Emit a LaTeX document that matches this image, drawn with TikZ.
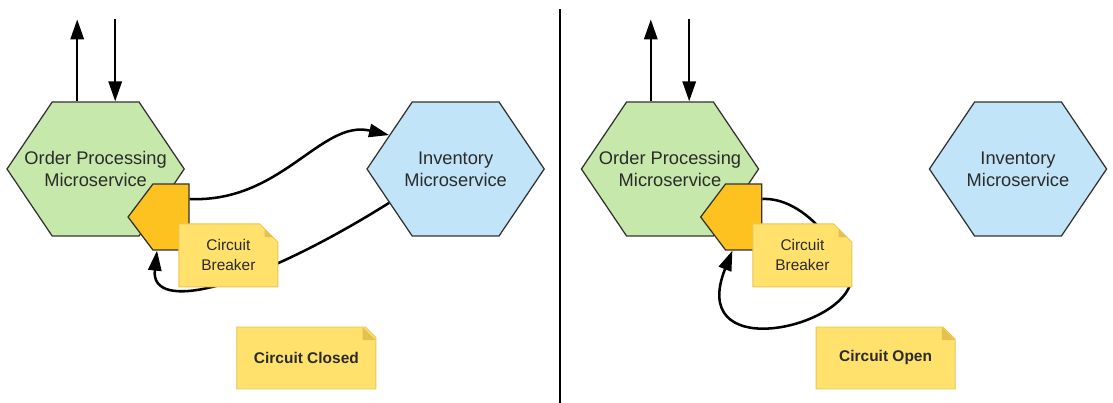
\documentclass[tikz,border=0pt]{standalone}
\usepackage{fontspec}
\setmainfont{Liberation Sans}
\usepackage{xcolor}
\usepackage{tikz}
\usetikzlibrary{shapes.symbols,shapes.misc,arrows.meta}
\definecolor{CBGreen}{HTML}{C6E8AB}
\definecolor{CBBlue}{HTML}{C2E4F8}
\definecolor{CBOrange}{HTML}{FDC21F}
\definecolor{CBNote}{HTML}{FFE16B}
\definecolor{CBNoteLine}{HTML}{E9C655}
\definecolor{CBFold}{HTML}{E3C050}
\definecolor{CBLine}{HTML}{333333}
\definecolor{CBText}{HTML}{2B2B2B}
\tikzset{
  service/.style={signal, signal to=west and east, signal pointer angle=112,
    draw=CBLine, line width=0.9pt, minimum width=4.43cm, minimum height=3.35cm, inner sep=0pt},
  servicetext/.style={align=center, inner sep=0pt, text=CBText, font=\fontsize{13}{15.6}\selectfont},
  breaker/.style={signal, signal to=west, signal pointer angle=106, fill=CBOrange,
    draw=CBLine, line width=0.9pt, minimum width=1.525cm, minimum height=1.65cm, inner sep=0pt},
  note/.style={chamfered rectangle, chamfered rectangle corners=north east,
    chamfered rectangle xsep=0.33cm, fill=CBNote, draw=CBNoteLine, line width=0.6pt,
    align=center, inner sep=0pt, text=CBText, font=\fontsize{11}{14.2}\selectfont,
    path picture={\fill[CBFold] ([xshift=-0.33cm]path picture bounding box.north east)
      -- ++(0,-0.33) -- ++(0.33,0) -- cycle;}},
  flow/.style={-{Triangle[length=0.5cm,width=0.33cm]}, line width=1.8pt}
}

\begin{document}
\begin{tikzpicture}[x=1cm,y=1cm]
\path[use as bounding box] (0,0) rectangle (27.825,10.075);
\draw[line width=1.5pt] (14.00,0) -- (14.00,9.85);
\node[service, fill=CBGreen, label={[servicetext]center:Order Processing\\Microservice}] (ord1) at (2.39,5.85) {};
\node[service, fill=CBBlue, label={[servicetext]center:Inventory\\Microservice}] (inv1) at (11.39,5.85) {};
\node[breaker] (cb1) at (4.275,4.65) {};
\coordinate (out1) at ([xshift=-0.46cm,yshift=2.05cm]ord1.north);
\coordinate (in1) at ([xshift=0.49cm,yshift=2.05cm]ord1.north);
\draw[flow] (out1 |- ord1.north) -- (out1);
\draw[flow] (in1) -- (in1 |- ord1.north);
\draw[flow] ([yshift=0.45cm]cb1.east) .. controls +(2.3,-0.1) and +(-1.7,0.4) .. (inv1.153);
\draw[flow] (inv1.207) .. controls +(-3.475,-2.175) and +(-0.175,-1.575) .. ([xshift=-0.35cm]cb1.south);
\node[note, minimum width=2.475cm, minimum height=1.575cm] (brk1) at (5.71,3.69) {Circuit\\Breaker};
\node[note, minimum width=3.475cm, minimum height=1.55cm, font=\fontsize{11}{14}\selectfont\bfseries] (state1) at (7.66,1.125) {Circuit Closed};
\node[service, fill=CBGreen, label={[servicetext]center:Order Processing\\Microservice}] (ord2) at (16.75,5.85) {};
\node[service, fill=CBBlue, label={[servicetext]center:Inventory\\Microservice}] (inv2) at (25.45,5.85) {};
\node[breaker] (cb2) at (18.59,4.65) {};
\coordinate (out2) at ([xshift=-0.48cm,yshift=2.05cm]ord2.north);
\coordinate (in2) at ([xshift=0.48cm,yshift=2.05cm]ord2.north);
\draw[flow] (out2 |- ord2.north) -- (out2);
\draw[flow] (in2) -- (in2 |- ord2.north);
\coordinate (loop2) at (21.25,2.95);
\draw[flow] ([yshift=0.45cm]cb2.east) .. controls +(1.0,0.05) and +(-0.2,1.0) .. (loop2)
  .. controls +(-0.4,-1.15) and +(-1.1,-2.75) .. ([xshift=-0.28cm]cb2.south);
\node[note, minimum width=2.475cm, minimum height=1.575cm] (brk2) at (20.06,3.69) {Circuit\\Breaker};
\node[note, minimum width=3.475cm, minimum height=1.55cm, font=\fontsize{11}{14}\selectfont\bfseries] (state2) at (22.14,1.125) {Circuit Open};
\end{tikzpicture}
\end{document}
